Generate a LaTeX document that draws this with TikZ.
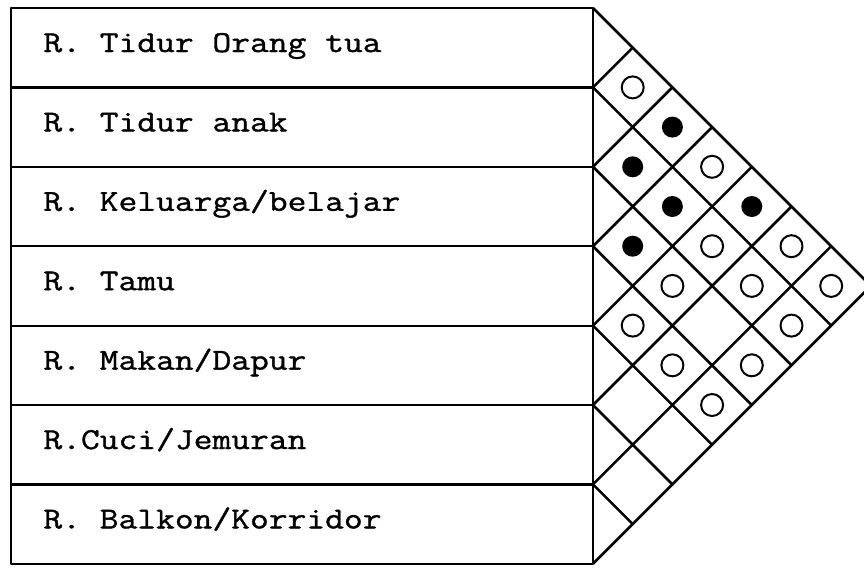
\documentclass[tikz,border=0pt]{standalone}
\usepackage{fontspec}
\setmonofont{Latin Modern Mono}[FakeStretch=1.2,FakeBold=1.2]
\begin{document}
\begin{tikzpicture}[x=0.5pt,y=-0.5pt,line join=round]
\useasboundingbox (0,0) rectangle (864,569);
\tikzset{
  tab/.style={line width=1.1pt},
  gridline/.style={line width=1.3pt},
  opendot/.style={circle,draw,line width=1pt,minimum size=11pt,inner sep=0pt},
  fulldot/.style={circle,fill,minimum size=10.5pt,inner sep=0pt},
  rowlabel/.style={anchor=base west,inner sep=0pt,font=\ttfamily\fontsize{15.2}{18}\selectfont}
}
\def\T{8}
\def\H{79.4}
\def\V{593}
\def\Lx{11}
% row boundary points on the vertical line
\foreach \k in {0,...,7}{
  \coordinate (p\k) at (\V,{\T+\k*\H});
  \coordinate (q\k) at (\Lx,{\T+\k*\H});
}
\coordinate (apex) at ({\V+3.5*\H},{\T+3.5*\H});
% table
\draw[tab] (q0) rectangle (p7);
\foreach \k in {1,...,6}{ \draw[tab] (q\k) -- (p\k); }
% labels
\foreach \i/\txt in {1/{R. Tidur Orang tua},2/{R. Tidur anak},3/{R. Keluarga/belajar},4/{R. Tamu},5/{R. Makan/Dapur},6/{R.Cuci/Jemuran},7/{R. Balkon/Korridor}}{
  \node[rowlabel] (lab\i) at (43,{\T+(\i-1)*\H+44}) {\txt};
}
% triangle matrix
\begin{scope}
\clip (0,0) rectangle (864,569);
\draw[gridline] (p0) -- (p7);
\draw[gridline] (p0) -- (apex) -- (p7);
\foreach \k in {1,...,6}{
  \draw[gridline] (p\k) -- ++({(7-\k)*\H/2},{(7-\k)*\H/2});
  \draw[gridline] (p\k) -- ++({\k*\H/2},{-\k*\H/2});
}
\end{scope}
% relations
\foreach \i/\j in {1/2,4/5,3/5,4/6,1/4,2/5,4/7,2/6,3/7,1/6,2/7,1/7}{
  \node[opendot] (o\i\j) at ({\V+(\j-\i)*\H/2},{\T+(\i+\j-1)*\H/2}) {};
}
\foreach \i/\j in {2/3,3/4,1/3,2/4,1/5}{
  \node[fulldot] (f\i\j) at ({\V+(\j-\i)*\H/2},{\T+(\i+\j-1)*\H/2}) {};
}
\end{tikzpicture}
\end{document}
